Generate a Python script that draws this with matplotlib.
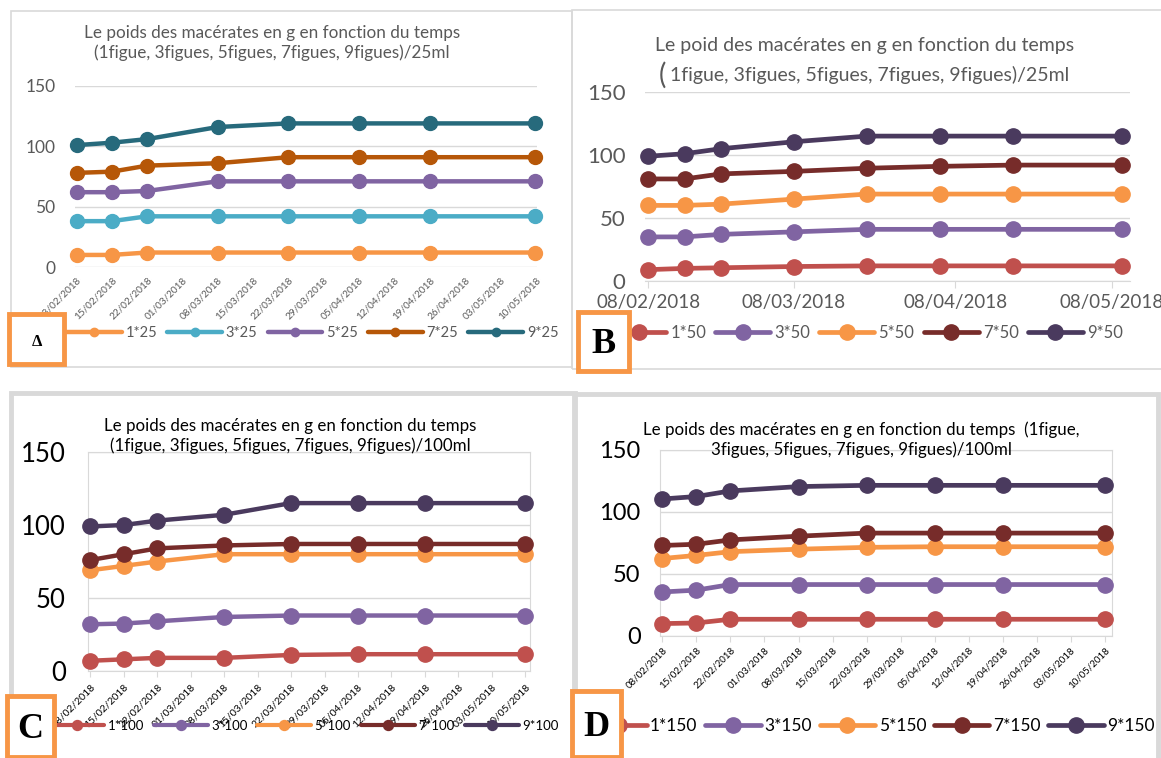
import matplotlib
matplotlib.use("Agg")
import matplotlib.pyplot as plt
import matplotlib.dates as mdates
import matplotlib.patches as mpatches
import datetime as dt

plt.rcParams['font.family'] = ['Lato', 'DejaVu Sans']

W, H = 1161, 758

# measurement dates (same for all four panels)
dates = ["08/02/2018", "15/02/2018", "22/02/2018", "08/03/2018",
         "22/03/2018", "05/04/2018", "19/04/2018", "10/05/2018"]

# panel A : 25 ml
labels_a = ["1*25", "3*25", "5*25", "7*25", "9*25"]
a_1 = [10, 10, 12, 12, 12, 12, 12, 12]
a_3 = [38, 38, 42, 42, 42, 42, 42, 42]
a_5 = [62, 62, 63, 71, 71, 71, 71, 71]
a_7 = [78, 79, 84, 86, 91, 91, 91, 91]
a_9 = [101, 103, 106, 116, 119, 119, 119, 119]

# panel B : 50 ml
labels_b = ["1*50", "3*50", "5*50", "7*50", "9*50"]
b_1 = [9, 10, 10.5, 11.5, 12, 12, 12, 12]
b_3 = [35, 35, 37, 39, 41, 41, 41, 41]
b_5 = [60, 60, 61, 65, 69, 69, 69, 69]
b_7 = [81, 81, 85, 87, 89.5, 91, 92, 92]
b_9 = [99, 101, 105, 110.5, 115, 115, 115, 115]

# panel C : 100 ml
labels_c = ["1*100", "3*100", "5*100", "7*100", "9*100"]
c_1 = [7, 8, 9, 9, 11, 11.5, 11.5, 11.5]
c_3 = [32, 32.5, 34, 37, 38, 38, 38, 38]
c_5 = [69, 72, 75, 80, 80, 80, 80, 80]
c_7 = [76, 80, 84, 86, 87, 87, 87, 87]
c_9 = [99, 100, 103, 107, 115, 115, 115, 115]

# panel D : 150 ml
labels_d = ["1*150", "3*150", "5*150", "7*150", "9*150"]
d_1 = [10, 10.5, 13.5, 13.5, 13.5, 13.5, 13.5, 13.5]
d_3 = [35.5, 37, 41.5, 41.5, 41.5, 41.5, 41.5, 41.5]
d_5 = [62.5, 65, 68, 70, 71.5, 72, 72, 72]
d_7 = [73, 74, 77.5, 80.5, 83, 83, 83, 83]
d_9 = [110.5, 112.5, 117, 120.5, 121.5, 121.5, 121.5, 121.5]

title_a = "Le poids des macérates en g en fonction du temps\n(1figue, 3figues, 5figues, 7figues, 9figues)/25ml"
title_b1 = "Le poid des macérates en g en fonction du temps"
title_b2 = "1figue, 3figues, 5figues, 7figues, 9figues)/25ml"
title_c = "Le poids des macérates en g en fonction du temps\n(1figue, 3figues, 5figues, 7figues, 9figues)/100ml"
title_d = "Le poids des macérates en g en fonction du temps  (1figue,\n3figues, 5figues, 7figues, 9figues)/100ml"

colors_a = ["#F79646", "#4BACC6", "#8064A2", "#B65708", "#276A7C"]
colors_b = ["#C0504D", "#8064A2", "#F79646", "#772C2A", "#4A3A5E"]

x = [dt.datetime.strptime(d, "%d/%m/%Y") for d in dates]
weekly = [x[0] + dt.timedelta(days=7 * i) for i in range(14)]


def fr(x0, y0, x1, y1):
    return [x0 / W, 1 - y1 / H, (x1 - x0) / W, (y1 - y0) / H]


def frame(x0, y0, x1, y1, lw):
    fig.add_artist(mpatches.Rectangle((x0 / W, 1 - y1 / H), (x1 - x0) / W, (y1 - y0) / H,
                                      transform=fig.transFigure, fill=False,
                                      ec="#D9D9D9", lw=lw))


def letter_box(x0, y0, x1, y1, txt, size):
    fig.add_artist(mpatches.Rectangle((x0 / W, 1 - y1 / H), (x1 - x0) / W, (y1 - y0) / H,
                                      transform=fig.transFigure, fc="white",
                                      ec="#F79646", lw=3.5, zorder=10))
    fig.text((x0 + x1) / 2 / W, 1 - ((y0 + y1) / 2 + 3) / H, txt, ha="center", va="center",
             family="Liberation Serif", weight="bold", size=size, zorder=11)


def panel(rect, series, labels, colors, lw, ms, ylab_size, ylab_color, pad,
          boxed, weekly_ticks, xlab_size, xlab_color, xlim, xpad):
    ax = fig.add_axes(fr(*rect))
    for ys, lab, col in zip(series, labels, colors):
        ax.plot(x, ys, color=col, lw=lw, marker="o", ms=ms, label=lab,
                solid_capstyle="round", clip_on=False, zorder=3)
    ax.set_ylim(0, 150)
    ax.set_yticks([0, 50, 100, 150])
    ax.yaxis.grid(True, color="#D9D9D9", lw=1)
    ax.set_axisbelow(True)
    ax.tick_params(axis="y", length=0, pad=pad, labelsize=ylab_size, labelcolor=ylab_color)
    ax.set_xlim(*xlim)
    for s in ax.spines.values():
        s.set_visible(boxed)
        s.set_color("#D9D9D9")
    ax.spines["bottom"].set_visible(True)
    ax.spines["bottom"].set_color("#D9D9D9")
    if weekly_ticks:
        ax.set_xticks(weekly)
        ax.xaxis.set_major_formatter(mdates.DateFormatter("%d/%m/%Y"))
        ax.tick_params(axis="x", length=4 if boxed else 0, color="#D9D9D9",
                       labelsize=xlab_size, labelcolor=xlab_color, pad=xpad)
        for t in ax.get_xticklabels():
            t.set_rotation(45)
            t.set_ha("right")
            t.set_rotation_mode("anchor")
    else:
        ax.xaxis.set_major_locator(mdates.MonthLocator(bymonthday=8))
        ax.xaxis.set_major_formatter(mdates.DateFormatter("%d/%m/%Y"))
        ax.tick_params(axis="x", length=5, color="#D9D9D9", direction="out",
                       labelsize=xlab_size, labelcolor=xlab_color, pad=xpad)
    if not boxed and weekly_ticks:
        ax.spines["bottom"].set_visible(False)
    return ax


def legend(ax, anchor, size, color, ms, lw, hl, tp, cs):
    h, l = ax.get_legend_handles_labels()
    leg = ax.legend(h, l, ncol=5, frameon=False, loc="center left",
                    bbox_to_anchor=(anchor[0] / W, 1 - anchor[1] / H),
                    bbox_transform=fig.transFigure, fontsize=size,
                    handlelength=hl, columnspacing=cs, handletextpad=tp,
                    borderaxespad=0, borderpad=0, markerscale=ms)
    for t in leg.get_texts():
        t.set_color(color)
    for line in leg.get_lines():
        line.set_linewidth(lw)
    return leg


fig = plt.figure(figsize=(W / 100, H / 100), dpi=100)
fig.patch.set_facecolor("white")

# frames
frame(11, 11, 572, 367, 1.2)
frame(572, 10, 1163, 369, 1.2)
frame(11, 393, 575, 762, 3.5)
frame(574, 394, 1158, 762, 3.5)

# ---- panel A
xl_a = (x[0] - dt.timedelta(days=0.3), x[-1] + dt.timedelta(days=0.3))
ax_a = panel((75, 86, 537, 267), [a_1, a_3, a_5, a_7, a_9], labels_a, colors_a,
             3.2, 10, 12.5, "#595959", 14, False, True, 7.2, "#595959", xl_a, 6)
fig.text(272 / W, 1 - 43 / H, title_a, ha="center", va="center", size=12.3,
         color="#595959", linespacing=1.3)
legend(ax_a, (67, 333), 10.5, "#595959", 0.6, 3.2, 3.75, 0.27, 0.68)
letter_box(9, 314, 64, 364, "Δ", 12)

# ---- panel B
xl_b = (x[0] - dt.timedelta(days=0.6), x[-1] + dt.timedelta(days=1.5))
ax_b = panel((645, 92, 1130, 281), [b_1, b_3, b_5, b_7, b_9], labels_b, colors_b,
             3.4, 11, 16, "#595959", 14, False, False, 13.5, "#595959", xl_b, 4)
fig.text(865 / W, 1 - 45 / H, title_b1, ha="center", va="center", size=14, color="#595959")
fig.text(670 / W, 1 - 75 / H, title_b2, ha="left", va="center", size=14, color="#595959")
fig.text(662 / W, 1 - 75 / H, "(", ha="center", va="center", size=20, color="#595959")
legend(ax_b, (611, 333), 12, "#595959", 1.0, 3.4, 3.3, 0.25, 0.55)
letter_box(578, 312, 629, 371, "B", 26)

# ---- panel C
xl_c = (x[0] - dt.timedelta(days=0.5), x[-1] + dt.timedelta(days=1.0))
ax_c = panel((88, 452, 530, 671), [c_1, c_3, c_5, c_7, c_9], labels_c, colors_b,
             3.2, 11, 18.5, "black", 16, True, True, 7.5, "black", xl_c, 4)
fig.text(290 / W, 1 - 436 / H, title_c, ha="center", va="center", size=12.2,
         color="black", linespacing=1.2)
legend(ax_c, (50, 726), 9.5, "black", 0.65, 3.0, 4.1, 0.25, 0.75)
letter_box(7, 696, 54, 757, "C", 26)

# ---- panel D
xl_d = (x[0] - dt.timedelta(days=0.5), x[-1] + dt.timedelta(days=1.5))
ax_d = panel((660, 450, 1112, 636), [d_1, d_3, d_5, d_7, d_9], labels_d, colors_b,
             3.4, 11, 17, "black", 14, True, True, 7, "black", xl_d, 3)
fig.text(861 / W, 1 - 440 / H, title_d, ha="center", va="center", size=12.2,
         color="black", linespacing=1.25)
legend(ax_d, (591, 726), 12.5, "black", 1.0, 3.4, 3.2, 0.2, 0.45)
letter_box(572, 691, 621, 757, "D", 26)

fig.savefig("out.png", dpi=100)
